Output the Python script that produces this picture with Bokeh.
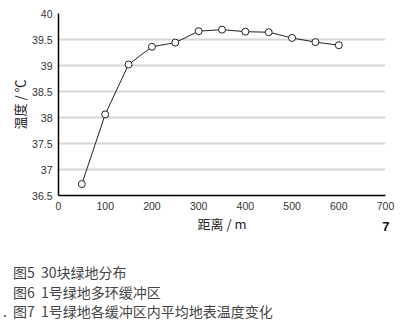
from bokeh.plotting import figure
from bokeh.models import FixedTicker, Range1d, Title, Div
from bokeh.layouts import column
from bokeh.embed import file_html
from bokeh.resources import INLINE

distance = [50, 100, 150, 200, 250, 300, 350, 400, 450, 500, 550, 600]
temperature = [36.72, 38.06, 39.02, 39.36, 39.44, 39.66, 39.69, 39.65, 39.64, 39.53, 39.45, 39.39]
y_ticks = [36.5, 37, 37.5, 38, 38.5, 39, 39.5, 40]
y_tick_labels = ["36.5", "37", "37.5", "38", "38.5", "39", "39.5", "40"]
x_ticks = [0, 100, 200, 300, 400, 500, 600, 700]
captions = ["图5\u00a0\u00a030块绿地分布", "图6\u00a0\u00a01号绿地多环缓冲区", "图7\u00a0\u00a01号绿地各缓冲区内平均地表温度变化"]
caption_marks = ["", "", "."]

CJK = "Noto Sans CJK SC"
NUM = "Liberation Sans"

p = figure(width=403, height=240, output_backend="svg", toolbar_location=None,
           x_range=Range1d(0, 700), y_range=Range1d(36.5, 40),
           min_border_left=58, min_border_right=18, min_border_top=13, min_border_bottom=45,
           margin=0)
p.outline_line_color = None
p.background_fill_color = "white"

p.xgrid.grid_line_color = None
p.ygrid.grid_line_color = "#d6d6d6"
p.ygrid.grid_line_width = 2
p.ygrid.ticker = FixedTicker(ticks=y_ticks)

p.yaxis.ticker = FixedTicker(ticks=y_ticks)
p.yaxis.major_label_overrides = {t: l for t, l in zip(y_ticks, y_tick_labels)}
p.xaxis.ticker = FixedTicker(ticks=x_ticks)
for ax in (p.xaxis, p.yaxis):
    ax.axis_line_color = "black"
    ax.axis_line_width = 1.5
    ax.major_tick_line_color = None
    ax.major_tick_out = 0
    ax.major_tick_in = 0
    ax.minor_tick_line_color = None
    ax.minor_tick_out = 0
    ax.major_label_text_font = NUM
    ax.major_label_text_font_size = "10.5px"
    ax.major_label_text_color = "#333333"
    ax.major_label_standoff = 6
    ax.axis_label_text_font = CJK
    ax.axis_label_text_font_size = "13px"
    ax.axis_label_text_font_style = "normal"
    ax.axis_label_text_color = "#222222"

p.xaxis.axis_label = "距离 / m"
p.xaxis.axis_label_standoff = 1
p.yaxis.axis_label = "温度 / ℃"
p.yaxis.axis_label_standoff = 0

p.line(distance, temperature, line_color="#222222", line_width=1)
p.scatter(distance, temperature, marker="circle", size=7, fill_color="white",
          line_color="#222222", line_width=1)

p.add_layout(Title(text="7", align="right", vertical_align="top", offset=-4, standoff=-28,
                   text_font=NUM, text_font_size="13px", text_font_style="bold",
                   text_color="#111111"), "below")

lines = []
for mark, c in zip(caption_marks, captions):
    lines.append(
        '<div style="white-space:nowrap;padding-left:3px;">'
        f'<span style="display:inline-block;width:10px;">{mark}</span>{c}</div>'
    )
html = ('<div style="padding-top:23px;font-family:\'Noto Sans CJK SC\';font-size:14px;'
        'line-height:19.5px;color:#444444;">' + "".join(lines) + '</div>')
div = Div(text=html, width=403, height=86, margin=0)

layout = column(p, div, spacing=0, margin=0)
open("out.html", "w").write(file_html(layout, INLINE))
